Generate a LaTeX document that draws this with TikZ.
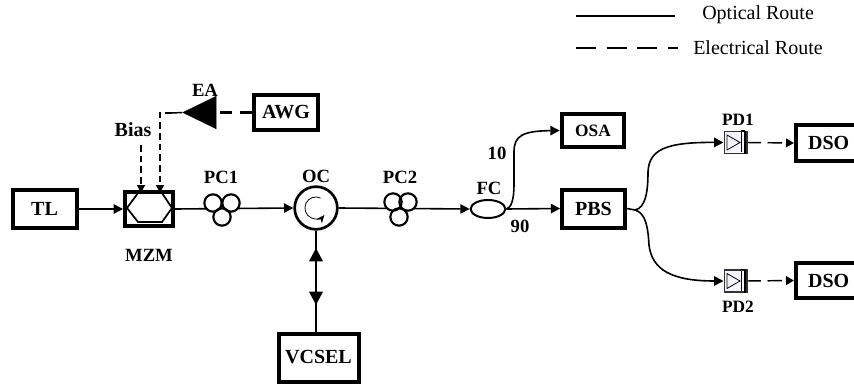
\documentclass[tikz,border=0pt]{standalone}
\usepackage{fontspec}
\setmainfont{Liberation Serif}
\usetikzlibrary{arrows.meta,shapes.geometric}
\tikzset{
  x=0.75pt,y=-0.75pt,
  boxthick/.style={draw,line width=3pt,fill=white,inner sep=0pt,font=\bfseries\fontsize{15}{15}\selectfont},
  lbl/.style={inner sep=0pt,font=\bfseries\fontsize{14}{14}\selectfont},
  leg/.style={inner sep=0pt,anchor=west,font=\fontsize{15}{15}\selectfont},
  opt/.style={line width=1.2pt},
  optarrow/.style={opt,-{Triangle[length=7pt,width=7pt]}},
  elecarrow/.style={line width=1.1pt,dash pattern=on 5pt off 3pt,-{Triangle[length=6pt,width=6pt]}},
  pdlink/.style={line width=1.1pt,dash pattern=on 10pt off 5pt on 11pt off 20pt,-{Triangle[length=6pt,width=6.5pt]}},
  pcring/.style={circle,draw,line width=1.6pt,minimum size=13pt,inner sep=0pt},
  biglink/.style={line width=2pt,-{Triangle[length=10pt,width=10pt]}},
}
\begin{document}
\begin{tikzpicture}
\useasboundingbox (0,0) rectangle (854,385);
% legend
\coordinate (l1a) at (576,16); \coordinate (l1b) at (675,16);
\coordinate (l2a) at (576,48); \coordinate (l2b) at (678,48);
\draw[line width=1.9pt] (l1a) -- (l1b);
\draw[line width=1.9pt,dash pattern=on 15pt off 8pt] (l2a) -- (l2b);
\node[leg] (t1) at (702,15) {Optical Route};
\node[leg] (t2) at (693,48) {Electrical Route};
% boxes
\node[boxthick,minimum width=48pt,minimum height=29pt] (tl) at (44.5,209) {TL};
\node[boxthick,minimum width=36pt,minimum height=26pt] (mzm) at (149,209) {};
\node[boxthick,minimum width=48pt,minimum height=26pt] (awg) at (286,112.5) {AWG};
\node[boxthick,minimum width=47pt,minimum height=25pt,font=\bfseries\fontsize{13}{13}\selectfont] (osa) at (593,130.5) {OSA};
\node[boxthick,minimum width=47pt,minimum height=28.5pt] (pbs) at (593.5,208.5) {PBS};
\node[boxthick,minimum width=60pt,minimum height=36pt] (vcsel) at (318.5,357.5) {VCSEL};
\node[boxthick,minimum width=60pt,minimum height=26.5pt,anchor=west] (dso1) at (794,143) {\hspace*{-11pt}DSO};
\node[boxthick,minimum width=60pt,minimum height=26.5pt,anchor=west] (dso2) at (794,280.5) {\hspace*{-11pt}DSO};
% MZM hexagon
\draw[line width=1.3pt] (127,208) -- (138,193) -- (162,193) -- (172,208) -- (162,222) -- (138,222) -- cycle;
% OC
\node[circle,draw,line width=2pt,minimum size=32pt,inner sep=0pt] (oc) at (316,208) {};
\draw[line width=.6pt,-{Stealth[length=6pt,width=5pt]}] (320.6,198) arc[start angle=65,end angle=320,radius=8.25pt];
% FC
\node[ellipse,draw,line width=1.5pt,minimum width=26pt,minimum height=13.5pt,inner sep=0pt] (fc) at (488,209) {};
% connectors
\draw[optarrow] (tl) -- (mzm.west);
\draw[optarrow] (mzm.east) -- (oc.west);
\draw[optarrow] (oc.east) -- (fc.west);
\draw[optarrow] (fc.east) -- (pbs.west);
\draw[optarrow] (fc.east) .. controls (511,208) and (514,200) .. (514,185) -- (514,152) .. controls (514,136) and (522,131) .. (osa.west);
% PC rings: wire hidden inside them
\foreach \cx/\cy in {213/203,231/203,222/217,393/202,408/202,399/217}{
  \fill[white] (\cx,\cy) circle[radius=6.5pt];
}
\node[pcring] (p1a) at (213,203) {};
\node[pcring] (p1b) at (231,203) {};
\node[pcring] (p1c) at (222,217) {};
\node[pcring] (p2a) at (393,202) {};
\node[pcring] (p2b) at (408,202) {};
\node[pcring] (p2c) at (399,217) {};
% VCSEL link
\draw[biglink] (vcsel.north -| oc) -- (316,248);
\draw[biglink] (oc.south) -- (316,305);
% EA
\node[isosceles triangle,isosceles triangle apex angle=52,draw,fill=black,inner sep=0pt,minimum height=25pt,shape border rotate=180,line width=.3pt] (ea) at (206,112.5) {};
\coordinate (eac) at (160,113);
\draw[line width=1.6pt,dash pattern=on 9pt off 6pt] (awg.west) -- (ea.east);
\draw[line width=1.1pt] (ea.apex) -- (172,113);
\draw[elecarrow] (172,113) -- (eac) -- (160,193);
\coordinate (biasb) at (141,145);
\draw[elecarrow] (biasb) -- (141,193);
% PDs
\foreach \n/\y in {pd1/142.5,pd2/281}{
  \node[draw=black!80,fill=blue!4,line width=1pt,minimum width=17pt,minimum height=16.5pt,inner sep=0pt] (\n) at (735.5,\y) {};
  \draw[line width=.6pt] (727,\y-7.5) -- (740,\y) -- (727,\y+7.5) -- cycle;
  \draw[line width=2pt] (745,\y-11.5) -- (745,\y+11.5);
  \draw[line width=.8pt] (740.5,\y-11.5) -- (745,\y-11.5);
  \draw[line width=.6pt] (741,\y-10) -- (741,\y+10);
}
% PBS fan-out
\coordinate (split) at (635,210);
\draw[opt] (pbs.east) -- (split);
\draw[optarrow] (split) .. controls (646,208) and (648,190) .. (648,172) .. controls (649,150) and (665,142) .. (pd1.west);
\draw[optarrow] (split) .. controls (646,213) and (648,228) .. (649,245) .. controls (652,270) and (672,281) .. (pd2.west);
% PD to DSO
\draw[pdlink] (pd1.east) -- (dso1.west);
\draw[pdlink] (pd2.east) -- (dso2.west);
% labels
\node[lbl] (lea) at (205,90) {EA};
\node[lbl,font=\bfseries\fontsize{15}{15}\selectfont] (lbias) at (133,130) {Bias};
\node[lbl] (lpc1) at (221,177) {PC1};
\node[lbl] (loc) at (316,176) {OC};
\node[lbl] (lpc2) at (400,177) {PC2};
\node[lbl] (lfc) at (489,188) {FC};
\node[lbl] (l10) at (497,153) {10};
\node[lbl] (l90) at (520,226) {90};
\node[lbl] (lmzm) at (149,255) {MZM};
\node[lbl,font=\bfseries\fontsize{13}{13}\selectfont] (lpd1) at (738,120) {PD1};
\node[lbl,font=\bfseries\fontsize{13}{13}\selectfont] (lpd2) at (738,307) {PD2};
\end{tikzpicture}
\end{document}
